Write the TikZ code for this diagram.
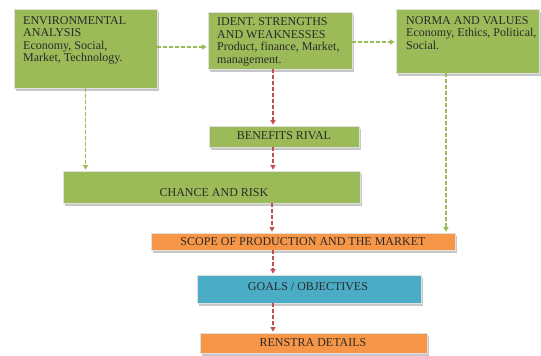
\documentclass[tikz,border=0pt]{standalone}
\usepackage{fontspec}
\setmainfont{Liberation Serif}
\usetikzlibrary{shadows,arrows.meta}
\definecolor{bxgreen}{HTML}{9BBB59}
\definecolor{bxorange}{HTML}{F79646}
\definecolor{bxblue}{HTML}{4BACC6}
\definecolor{lnred}{HTML}{C0504D}
\definecolor{lngreen}{HTML}{9BBB59}
\definecolor{txt}{HTML}{2A2A2A}
\tikzset{
  box/.style={rectangle, draw=black!12, line width=0.8pt, inner sep=0pt,
    drop shadow={shadow xshift=2pt, shadow yshift=-2.5pt, fill=black!40, opacity=0.55}},
  lbl/.style={inner sep=0pt, text=txt, font=\fontsize{12}{12.5}\selectfont},
  mtext/.style={lbl, anchor=north west, align=left},
  conn/.style={line width=1.1pt, dash pattern=on 3.5pt off 2.5pt,
    -{Triangle[width=5pt,length=4.5pt]}, shorten >=1pt},
  garrow/.style={conn, draw=lngreen, fill=lngreen},
  rarrow/.style={conn, draw=lnred, fill=lnred}
}
\begin{document}
\begin{tikzpicture}[x=1pt,y=-1pt]
\useasboundingbox (0,0) rectangle (541,356);
% boxes
\node[box, fill=bxgreen, minimum width=143pt, minimum height=79pt] (env) at (85.5,48.5) {};
\node[box, fill=bxgreen, minimum width=144pt, minimum height=57pt] (ident) at (280,40.5) {};
\node[box, fill=bxgreen, minimum width=143pt, minimum height=64pt] (norma) at (467.5,41) {};
\node[box, fill=bxgreen, minimum width=150pt, minimum height=21pt] (benefits) at (284,136.5) {};
\node[box, fill=bxgreen, minimum width=297pt, minimum height=32pt] (chance) at (211.5,187) {};
\node[box, fill=bxorange, minimum width=304pt, minimum height=17pt] (scope) at (303,241.5) {};
\node[box, fill=bxblue, minimum width=224pt, minimum height=28pt] (goals) at (309,289) {};
\node[box, fill=bxorange, minimum width=227pt, minimum height=20pt] (renstra) at (313.5,343) {};
% texts
\node[mtext] (envt) at (23,16) {ENVIRONMENTAL\\ANALYSIS\\Economy, Social,\\Market, Technology.};
\node[mtext] (identt) at (217,17.5) {IDENT. STRENGTHS\\AND WEAKNESSES\\Product, finance, Market,\\management.};
\node[mtext] (normat) at (406,16) {NORMA AND VALUES\\Economy, Ethics, Political,\\Social.};
\node[lbl] (benefitst) at (284,136) {BENEFITS RIVAL};
\node[lbl] (chancet) at (214,193) {CHANCE AND RISK};
\node[lbl] (scopet) at (303,242) {SCOPE OF PRODUCTION AND THE MARKET};
\node[lbl] (goalst) at (308,287) {GOALS / OBJECTIVES};
\node[lbl] (renstrat) at (313,342.5) {RENSTRA DETAILS};
% connectors
\draw[garrow] (env.east |- 0,47) -- (ident.west |- 0,47);
\draw[garrow] (ident.east |- 0,42) -- (norma.west |- 0,42);
\draw[garrow] (env.south) -- (chance.north -| env.south);
\draw[garrow] (norma.south -| 446,0) -- (scope.north -| 446,0);
\draw[rarrow] (ident.south -| 273,0) -- (benefits.north -| 273,0);
\draw[rarrow] (benefits.south -| 273,0) -- (chance.north -| 273,0);
\draw[rarrow] (chance.south -| 272,0) -- (scope.north -| 272,0);
\draw[rarrow] (scope.south -| 273,0) -- (goals.north -| 273,0);
\draw[rarrow] (goals.south -| 273,0) -- (renstra.north -| 273,0);
\end{tikzpicture}
\end{document}
